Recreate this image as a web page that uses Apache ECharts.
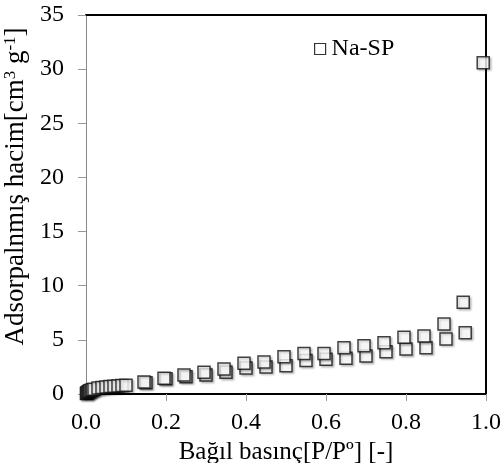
<!DOCTYPE html>
<html><head><meta charset="utf-8">
<script src="https://cdn.jsdelivr.net/npm/echarts@6/dist/echarts.min.js"></script>
<style>html,body{margin:0;padding:0;background:#fff}#c{width:502px;height:463px}</style>
</head><body><div id="c"></div>
<script>
var seriesName = 'Na-SP';
var xTicks = [0, 0.2, 0.4, 0.6, 0.8, 1.0];
var yTicks = [0, 5, 10, 15, 20, 25, 30, 35];
var adsP = [0.001,0.002,0.004,0.006,0.008,0.01,0.013,0.016,0.02,0.03,0.04,0.05,0.06,0.07,0.08,0.09,0.1,0.15,0.2,0.25,0.3,0.35,0.4,0.45,0.5,0.55,0.6,0.65,0.7,0.75,0.8,0.85,0.9,0.948,0.993];
var adsV = [0.05,0.1,0.15,0.2,0.25,0.3,0.35,0.4,0.45,0.55,0.6,0.65,0.7,0.72,0.75,0.78,0.8,1.04,1.4,1.6,1.75,2.0,2.4,2.5,2.6,3.1,3.2,3.3,3.5,3.9,4.15,4.27,5.08,5.66,30.6];
var desP = [0.145,0.195,0.245,0.295,0.345,0.395,0.445,0.495,0.545,0.595,0.645,0.695,0.745,0.795,0.845,0.895,0.943];
var desV = [1.1,1.45,1.75,2.0,2.3,2.85,2.95,3.45,3.75,3.75,4.28,4.46,4.74,5.24,5.35,6.46,8.47];

var data = [];
adsP.forEach(function(p,i){ data.push([p, adsV[i]]); });
desP.forEach(function(p,i){ data.push([p, desV[i]]); });

var font = '"Liberation Serif", "Times New Roman", serif';
var chart = echarts.init(document.getElementById('c'));
chart.setOption({
  animation: false,
  backgroundColor: '#fff',
  grid: { left: 86, right: 16, top: 15, bottom: 69, containLabel: false, outerBoundsMode: 'none' },
  legend: {
    left: 309, top: 32, itemWidth: 11, itemHeight: 11, itemGap: 4,
    icon: 'rect',
    textStyle: { fontFamily: font, fontSize: 24, color: '#000', padding: [0,0,0,1] },
    data: [{ name: seriesName, itemStyle: { color: '#fff', borderColor: '#000', borderWidth: 1.2 } }]
  },
  xAxis: [{
    type: 'value', min: 0, max: 1, interval: 0.2,
    name: 'Bağıl basınç[P/Pº] [-]', nameLocation: 'middle', nameGap: 36,
    nameTextStyle: { fontFamily: font, fontSize: 25, color: '#000' },
    axisLine: { show: true, lineStyle: { color: '#000', width: 2 } },
    axisTick: { show: true, inside: false, length: 7, lineStyle: { color: '#999' } },
    axisLabel: { fontFamily: font, fontSize: 24, color: '#000', margin: 17,
      formatter: function(v){ return v.toFixed(1); } },
    splitLine: { show: false }
  }, {
    type: 'value', position: 'top', min: 0, max: 1,
    axisLine: { show: true, onZero: false, lineStyle: { color: '#000', width: 2 } },
    axisTick: { show: false }, axisLabel: { show: false }, splitLine: { show: false }
  }],
  yAxis: [{
    type: 'value', min: 0, max: 35, interval: 5,
    name: '{a|Adsorpalnmış hacim[cm}{s|3}{a| g}{s|-1}{a|]}', nameLocation: 'middle', nameGap: 47,
    nameTextStyle: { fontFamily: font, fontSize: 27, color: '#000', padding: [0,0,0,36],
      rich: { a: { fontFamily: font, fontSize: 27, color: '#000' },
              s: { fontFamily: font, fontSize: 17, color: '#000', verticalAlign: 'top', padding: [0,0,10,0] } } },
    axisLine: { show: true, lineStyle: { color: '#888', width: 1 } },
    axisTick: { show: true, inside: false, length: 8, lineStyle: { color: '#999' } },
    axisLabel: { fontFamily: font, fontSize: 24, color: '#000', margin: 22 },
    splitLine: { show: false }
  }, {
    type: 'value', position: 'right', min: 0, max: 35,
    axisLine: { show: true, onZero: false, lineStyle: { color: '#000', width: 2 } },
    axisTick: { show: false }, axisLabel: { show: false }, splitLine: { show: false }
  }],
  series: [{
    name: seriesName, type: 'scatter', symbol: 'rect', symbolSize: 12,
    data: data,
    itemStyle: { color: '#fff', borderColor: '#111', borderWidth: 1.5,
      shadowColor: 'rgba(0,0,0,0.25)', shadowBlur: 2, shadowOffsetX: 1.5, shadowOffsetY: 1.5 }
  }]
});
</script></body></html>
